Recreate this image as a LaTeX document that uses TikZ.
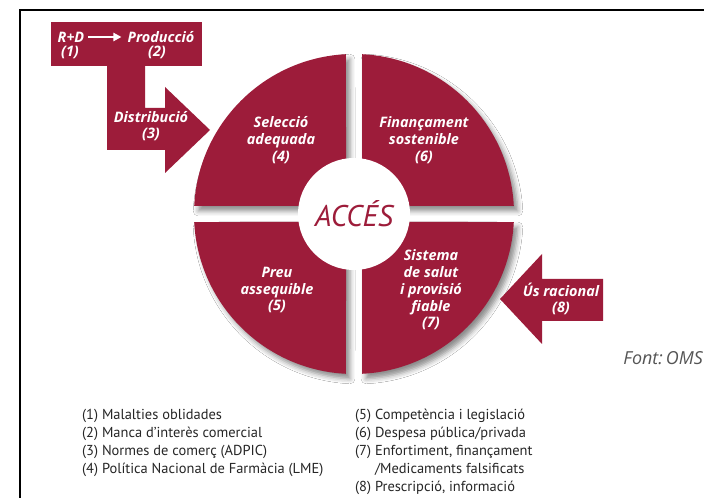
\documentclass[tikz,border=0pt]{standalone}
\usepackage{fontspec}
\setmainfont{PT Sans}
\newfontfamily\labfont{Open Sans}
\usetikzlibrary{positioning,arrows.meta,calc,shadows.blur}
\definecolor{AccRed}{HTML}{9D1C3A}
\definecolor{SrcGray}{HTML}{555555}

\begin{document}
\begin{tikzpicture}[x=1bp,y=1bp,
  every node/.style={inner sep=0pt},
  lab/.style={font=\labfont\fontsize{14.5}{16.8}\selectfont\bfseries\itshape, text=white, align=center},
  leg/.style={font=\fontsize{14.5}{18}\selectfont, text=black!85, align=left, anchor=north west},
  wedge/.style={fill=AccRed, blur shadow={shadow xshift=4bp, shadow yshift=-5bp, shadow blur radius=5bp, shadow opacity=45}}]
  \useasboundingbox (0,0) rectangle (704,498);
  \fill[white] (0,0) rectangle (704,498);
  \draw[line width=1.5bp] (20,0) -- (20,488) -- (704,488);

  % left feeder: R+D -> Produccio, then down into Distribucio
  \fill[AccRed] (51,432) rectangle (202,476);
  \fill[AccRed] (107,432) -- (145,432) -- (145,390) -- (165,390) -- (165,411)
    -- (210,368) -- (165,325) -- (165,348) -- (107,348) -- cycle;
  \node[lab] (rd) at (71,461) {R+D};
  \node[lab] (prod) at (161,461) {Producció};
  \node[lab] (n1) at (70,446) {(1)};
  \node[lab] (n2) at (157,446) {(2)};
  \draw[white, line width=2.5bp, -{Triangle[length=8bp,width=8bp]}, shorten <=4bp, shorten >=6bp] (rd) -- (prod);
  \node[lab] (distr) at (151,372) {Distribució\\(3)};

  % access wheel, four wedges round the centre
  \coordinate (c) at (354,284);
  \begin{scope}[shift={(c)}]
    \foreach \sx/\sy/\a in {1/1/0, -1/1/90, -1/-1/180, 1/-1/270}{
      \path[wedge] (\sx*8,\sy*8) -- (\a+2.87:160bp)
        arc[start angle=\a+2.87, end angle=\a+87.13, radius=160bp] -- cycle;
    }
  \end{scope}
  \node[circle, fill=white, minimum size=112bp, text=AccRed, font=\fontsize{30}{32}\selectfont\itshape] (acc) at (c) {ACCÉS};

  \node[lab] (q4) at (281,358) {Selecció\\adequada\\(4)};
  \node[lab] (q6) at (424,358) {Finançament\\sostenible\\(6)};
  \node[lab] (q5) at (277,208) {Preu\\assequible\\(5)};
  \node[lab] (q7) at (431,208) {Sistema\\de salut\\i provisió\\fiable\\(7)};

  % incoming arrow on the right
  \fill[AccRed] (603,219) -- (542,219) -- (542,244) -- (500,199) -- (542,154)
    -- (542,177) -- (603,177) -- cycle;
  \node[lab] (us) at (561,199) {Ús racional\\(8)};

  \node[anchor=east, text=SrcGray, font=\labfont\fontsize{18}{20}\selectfont\itshape] (src) at (703,140) {Font:\,OMS};

  % legend
  \node[leg] (legL) at (82,89) {(1) Malalties oblidades\\(2) Manca d’interès comercial\\(3) Normes de comerç (ADPIC)\\(4) Política Nacional de Farmàcia (LME)};
  \node[leg] (legR) at (355,89) {(5) Competència i legislació\\(6) Despesa pública/privada\\(7) Enfortiment, finançament\\\phantom{(7) }/Medicaments falsificats\\(8) Prescripció, informació};
\end{tikzpicture}
\end{document}
